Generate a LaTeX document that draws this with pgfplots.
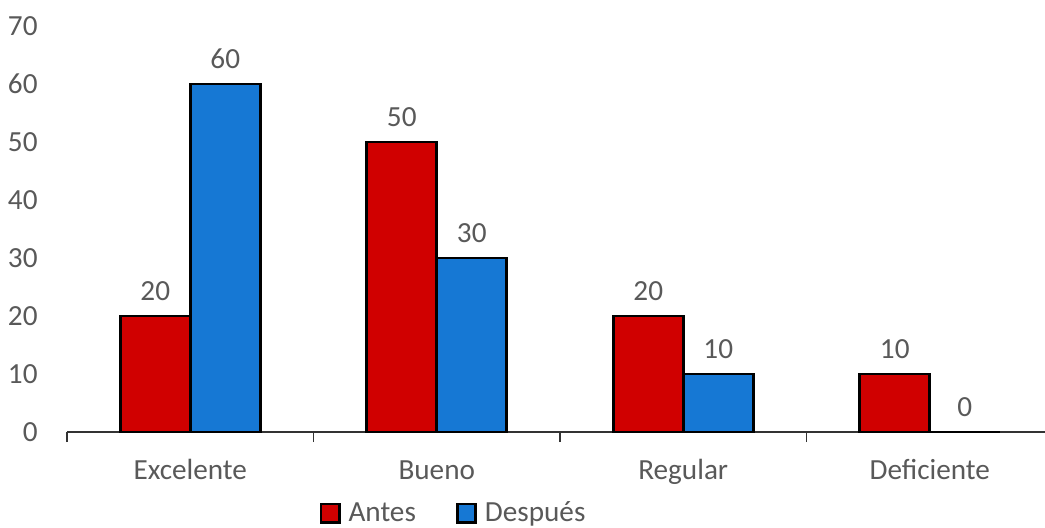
\documentclass[border=0pt]{standalone}
\usepackage{pgfplots}
\pgfplotsset{compat=1.18}
\usepackage{fontspec}
\setmainfont{Carlito}

\definecolor{antes}{RGB}{208,0,0}
\definecolor{despues}{RGB}{22,120,212}
\definecolor{txt}{RGB}{89,89,89}

\newcommand{\lbl}{\fontsize{14.6}{17}\selectfont}

\begin{document}
\begin{tikzpicture}
\path[use as bounding box] (-33.5pt,-47.5pt) rectangle (489pt,216pt);
\begin{axis}[
  at={(0,0)}, anchor=south west,
  scale only axis, width=493pt, height=203pt,
  ymin=0, ymax=70, xmin=-0.5, xmax=3.5,
  ytick={0,10,...,70},
  xtick={-0.5,0.5,1.5,2.5,3.5},
  x tick label as interval,
  xticklabels={Excelente,Bueno,Regular,Deficiente},
  axis lines*=left,
  y axis line style={draw=none},
  x axis line style={draw=black!80, line width=0.8pt},
  ytick style={draw=none},
  tick align=outside,
  major tick length=5pt,
  xtick style={draw=black!80, line width=0.7pt},
  /pgf/number format/assume math mode=true,
  tick label style={font=\lbl, text=txt},
  yticklabel style={anchor=east, inner sep=0pt, xshift=-9.5pt},
  xticklabel style={anchor=base, inner sep=0pt, yshift=-18.5pt},
  ybar=0pt, bar width=0.284,
  nodes near coords,
  nodes near coords style={font=\lbl, text=txt, anchor=south, inner sep=0pt, yshift=7pt},
  legend columns=2,
  legend style={draw=none, at={(0.393,-0.200)}, anchor=center,
    font=\lbl, text=txt,
    /tikz/every odd column/.append style={column sep=2pt},
    /tikz/every even column/.append style={column sep=18pt}},
  legend image code/.code={\draw[#1, draw=black, line width=1.3pt] (0pt,-4.6pt) rectangle (9.2pt,4.6pt);},
]
\addplot[fill=antes, draw=black, line width=1.4pt]
  coordinates {(0,20) (1,50) (2,20) (3,10)};
\addplot[fill=despues, draw=black, line width=1.4pt]
  coordinates {(0,60) (1,30) (2,10) (3,0)};
\legend{Antes, Después}
\end{axis}
\end{tikzpicture}
\end{document}
